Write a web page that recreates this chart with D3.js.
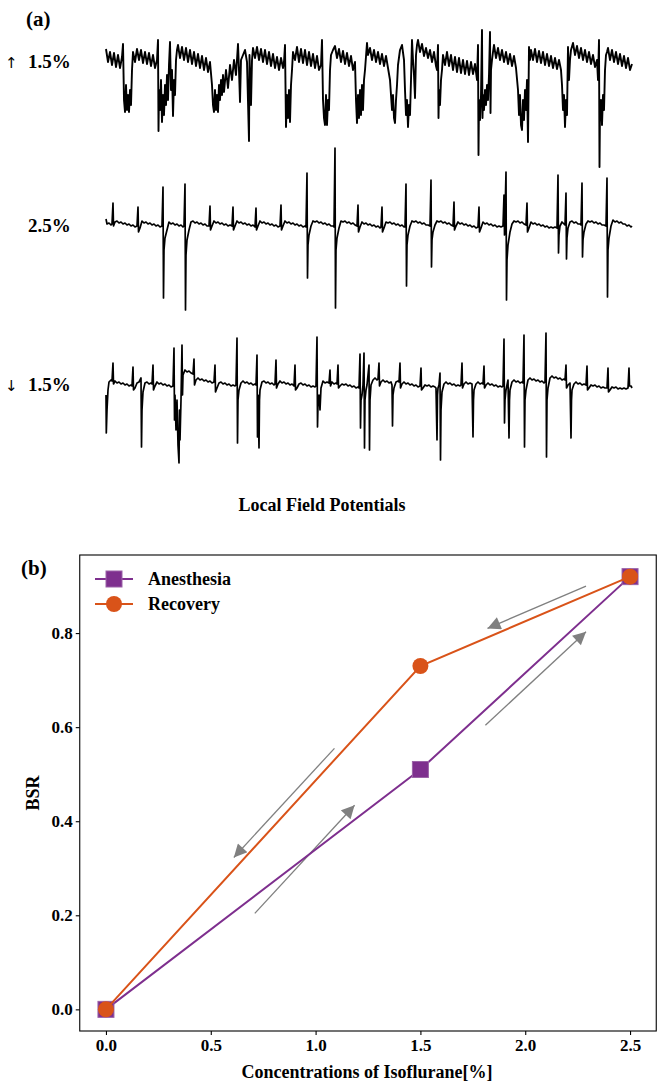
<!DOCTYPE html>
<html>
<head>
<meta charset="utf-8">
<script src="https://cdn.jsdelivr.net/npm/d3@7/dist/d3.min.js"></script>
<style>
  body { margin: 0; background: #fff; }
  svg text { font-family: "Liberation Serif", "Times New Roman", serif; font-weight: bold; fill: #000; }
</style>
</head>
<body>
<div id="chart"></div>
<script>
// ---- panel (a): LFP traces, time in s, amplitude in uV ----
var traceArrows = ["\u2191", "", "\u2193"];
var traceLabels = ["1.5%", "2.5%", "1.5%"];

var lfpUp15 = [[0.1,110],[0.3,-20],[0.5,80],[0.7,-50],[0.9,70],[1.1,-70],[1.3,50],[1.5,-80],[1.7,30],
[1.8,160],[1.9,-400],[2.0,-520],[2.1,-250],[2.2,-500],[2.3,-350],[2.4,-520],[2.5,-300],[2.6,-450],[2.7,-100],
[2.8,80],[3.0,-20],[3.2,110],[3.4,0],[3.6,100],[3.8,-30],[4.0,80],[4.2,-40],[4.4,70],[4.6,-60],[4.8,50],[5.0,-80],[5.2,0],
[5.3,200],[5.35,-710],[5.4,-300],[5.5,-500],[5.6,-200],[5.7,-620],[5.8,-350],[5.9,-550],[6.0,-250],[6.1,-450],[6.2,-150],[6.3,-400],[6.4,-50],[6.5,180],[6.6,-300],[6.7,-100],[6.8,-560],[6.9,-200],[7.0,-350],[7.1,0],
[7.2,100],[7.3,150],[7.5,20],[7.7,130],[7.9,0],[8.1,120],[8.3,-20],[8.5,100],[8.7,-40],[8.9,80],[9.1,-60],[9.3,60],[9.5,-80],[9.7,40],[9.9,-100],[10.1,20],[10.3,-120],[10.5,-20],
[10.7,-250],[10.8,-450],[10.9,-520],[11.0,-300],[11.1,-500],[11.2,-350],[11.3,-520],[11.4,-250],[11.5,-400],[11.6,-200],[11.7,-350],[11.8,-150],[11.9,-320],[12.1,-100],[12.3,-280],[12.5,-50],[12.7,-200],[12.9,0],[13.1,-150],[13.3,160],[13.4,-100],[13.5,-420],[13.6,0],[13.8,50],[14.0,100],[14.2,-20],[14.4,-810],[14.45,50],[14.6,-450],[14.7,0],
[14.8,120],[15.0,20],[15.2,130],[15.4,0],[15.6,110],[15.8,-20],[16.0,100],[16.2,-40],[16.4,80],[16.6,-60],[16.8,60],[17.0,-80],[17.2,30],[17.4,-100],[17.6,20],[17.8,-80],[17.9,-20],
[18.0,150],[18.1,-670],[18.2,-350],[18.3,-580],[18.4,-300],[18.5,-620],[18.6,-250],[18.7,-100],
[18.8,80],[19.0,0],[19.2,130],[19.4,-20],[19.6,110],[19.8,-30],[20.0,100],[20.2,-50],[20.4,80],[20.6,-60],[20.8,60],[21.0,-80],[21.2,40],[21.4,-100],
[21.6,-50],[21.7,200],[21.8,-400],[21.9,-580],[22.0,-650],[22.1,-350],[22.2,-650],[22.3,-400],[22.4,-500],[22.5,-100],
[22.6,50],[22.8,100],[23.0,140],[23.2,20],[23.4,110],[23.6,-20],[23.8,90],[24.0,-40],[24.2,70],[24.4,-60],[24.6,40],[24.8,-100],[25.0,-20],
[25.1,-400],[25.2,-630],[25.3,-350],[25.4,-580],[25.5,-300],[25.6,-550],[25.7,-250],[25.8,-500],[25.9,-200],[26.0,-100],[26.2,170],
[26.3,50],[26.5,120],[26.7,0],[26.9,100],[27.1,-20],[27.3,80],[27.5,-40],[27.7,60],[27.9,-60],[28.1,40],[28.3,-80],
[28.5,-200],[28.7,-500],[28.8,-350],[28.9,-580],[29.0,-630],[29.1,-400],[29.2,-250],[29.3,-50],[29.5,100],[29.7,150],[29.9,0],
[30.0,-300],[30.1,-550],[30.2,-400],[30.3,-670],[30.4,-450],[30.5,-550],[30.6,-200],[30.7,200],[30.8,0],[30.9,-150],[31.0,-380],[31.1,50],
[31.2,150],[31.3,200],[31.5,80],[31.7,160],[31.9,40],[32.1,120],[32.3,20],[32.5,100],[32.7,-20],[32.9,80],[33.1,-60],
[33.2,-100],[33.3,150],[33.35,-580],[33.4,-300],[33.5,-450],[33.6,-200],[33.7,-100],
[33.8,50],[34.0,-50],[34.2,80],[34.4,-60],[34.6,50],[34.8,-100],[35.0,30],[35.2,-120],[35.4,20],[35.6,-130],[35.8,0],[36.0,-140],[36.2,-10],[36.4,-150],[36.6,-20],[36.8,-140],[37.0,-40],
[37.2,-200],[37.3,150],[37.35,-950],[37.4,-400],[37.5,-600],[37.6,-350],[37.7,300],[37.75,-580],[37.8,-350],[37.9,-500],[38.0,-300],[38.1,-450],[38.2,-250],[38.3,-400],[38.4,-150],[38.5,280],[38.55,-530],[38.6,-100],[38.7,0],
[38.8,80],[38.9,150],[39.1,20],[39.3,120],[39.5,0],[39.7,100],[39.9,-20],[40.1,80],[40.3,-40],[40.5,60],[40.7,-60],[40.9,40],[41.1,-80],
[41.3,-300],[41.4,-550],[41.5,-350],[41.6,-650],[41.7,-700],[41.8,-400],[41.9,-600],[42.0,-300],[42.1,-500],[42.2,-200],[42.3,-820],[42.4,130],[42.5,0],
[42.6,100],[42.8,0],[43.0,110],[43.2,-20],[43.4,90],[43.6,-30],[43.8,80],[44.0,-50],[44.2,60],[44.4,-60],[44.6,40],[44.8,-80],[45.0,20],[45.2,-90],[45.4,0],[45.6,-100],
[45.7,-250],[45.8,-500],[45.9,-350],[46.0,-670],[46.1,-400],[46.2,-550],[46.3,130],[46.4,-200],[46.5,0],
[46.6,100],[46.8,170],[47.0,50],[47.2,140],[47.4,20],[47.6,120],[47.8,0],[48.0,100],[48.2,-20],[48.4,80],[48.6,-40],[48.8,50],[49.0,-70],[49.2,0],
[49.3,-200],[49.4,200],[49.45,-1070],[49.5,-500],[49.6,-400],[49.7,-650],[49.8,-350],[49.9,-500],[50.0,-100],[50.1,50],
[50.2,80],[50.3,120],[50.5,0],[50.7,100],[50.9,-20],[51.1,80],[51.3,-40],[51.5,60],[51.7,-60],[51.9,40],[52.1,-80],[52.3,20],[52.5,-100],[52.7,-40]];

var lfp25 = [[0.1,50],[0.2,0],[0.4,10],[0.6,-10],[0.7,0],[0.8,210],[0.85,-20],[1.0,20],[1.2,30],[1.4,10],[1.6,20],[1.8,0],[2.0,10],[2.2,-10],[2.4,0],[2.6,-20],[2.8,-10],[3.0,-30],[3.2,-20],
[3.3,170],[3.35,-80],[3.5,-40],[3.7,30],[3.9,10],[4.1,20],[4.3,0],[4.5,10],[4.7,-10],[4.9,0],[5.1,-20],[5.3,-10],[5.5,-30],[5.7,-20],
[5.8,370],[5.85,-740],[5.9,-260],[6.0,-140],[6.2,-60],[6.4,20],[6.6,0],[6.8,10],[7.0,-10],[7.2,0],[7.4,-20],[7.6,-10],[7.8,-30],[7.9,-20],
[8.0,400],[8.05,-860],[8.1,-310],[8.2,-160],[8.4,-60],[8.6,20],[8.8,30],[9.0,10],[9.2,20],[9.4,0],[9.6,10],[9.8,-10],[10.0,0],[10.2,-20],[10.4,-20],
[10.5,180],[10.55,-60],[10.7,-20],[10.9,30],[11.1,10],[11.3,20],[11.5,0],[11.7,10],[11.9,-10],[12.1,0],[12.3,-20],[12.5,-10],[12.7,-20],
[12.8,170],[12.85,-60],[13.0,-20],[13.2,30],[13.4,10],[13.6,20],[13.8,0],[14.0,10],[14.2,-10],[14.4,0],[14.6,-20],[14.8,-10],[15.0,-30],
[15.1,160],[15.15,-60],[15.3,-20],[15.5,30],[15.7,10],[15.9,20],[16.1,0],[16.3,10],[16.5,-10],[16.7,0],[16.9,-20],[17.1,-10],[17.3,-30],[17.5,-20],
[17.6,190],[17.65,-60],[17.8,-20],[18.0,30],[18.2,10],[18.4,20],[18.6,0],[18.8,10],[19.0,-10],[19.2,0],[19.4,-20],[19.6,-10],[19.8,-30],[20.0,-20],[20.1,-30],
[20.2,510],[20.25,-540],[20.3,-210],[20.4,-110],[20.6,-20],[20.8,30],[21.0,20],[21.2,30],[21.4,10],[21.6,20],[21.8,0],[22.0,10],[22.2,-10],[22.4,0],[22.6,-20],[22.8,-20],[22.9,-30],
[23.0,760],[23.05,-840],[23.1,-260],[23.2,-140],[23.4,-40],[23.6,30],[23.8,20],[24.0,30],[24.2,10],[24.4,20],[24.6,0],[24.8,10],[25.0,-10],[25.2,-20],
[25.3,190],[25.35,-80],[25.5,-30],[25.7,20],[25.9,0],[26.1,10],[26.3,-10],[26.5,0],[26.7,-20],[26.9,-10],[27.1,-30],[27.3,-20],[27.5,-40],[27.6,-30],
[27.7,170],[27.75,-80],[27.9,-40],[28.1,20],[28.3,10],[28.5,20],[28.7,0],[28.9,10],[29.1,-10],[29.3,0],[29.5,-20],[29.7,-10],[29.9,-30],[30.0,-30],
[30.1,400],[30.15,-620],[30.2,-210],[30.3,-110],[30.5,-20],[30.7,30],[30.9,20],[31.1,30],[31.3,10],[31.5,20],[31.7,0],[31.9,10],[32.1,-10],[32.3,-10],[32.5,-20],
[32.6,440],[32.65,-430],[32.7,-160],[32.8,-80],[33.0,-10],[33.2,30],[33.4,20],[33.6,30],[33.8,10],[34.0,20],[34.2,0],[34.4,10],[34.6,-10],[34.8,-20],
[34.9,220],[34.95,-60],[35.1,-20],[35.3,20],[35.5,0],[35.7,10],[35.9,-10],[36.1,0],[36.3,-20],[36.5,-10],[36.7,-30],[36.9,-20],[37.1,-40],[37.3,-30],
[37.4,170],[37.45,-80],[37.6,-40],[37.8,20],[38.0,0],[38.2,10],[38.4,-10],[38.6,0],[38.8,-20],[39.0,-10],[39.2,-30],[39.4,-20],[39.6,-30],[39.8,-20],
[39.9,290],[39.95,-110],[40.0,90],[40.1,520],[40.15,-760],[40.2,-360],[40.3,-210],[40.5,-80],[40.7,0],[40.9,30],[41.1,20],[41.3,30],[41.5,10],[41.7,20],[41.9,0],[42.1,-10],
[42.2,210],[42.25,-80],[42.4,-40],[42.6,20],[42.8,0],[43.0,10],[43.2,-10],[43.4,0],[43.6,-20],[43.8,-10],[44.0,-30],[44.2,-20],[44.4,-40],[44.6,-30],[44.8,-40],[45.0,-30],[45.2,-40],
[45.3,490],[45.35,-290],[45.4,-110],[45.5,-20],[45.7,20],[45.9,0],[46.0,-10],
[46.1,310],[46.15,-350],[46.2,-140],[46.3,-40],[46.5,20],[46.7,30],[46.9,10],[47.1,20],[47.3,0],[47.5,0],[47.6,-10],
[47.7,410],[47.75,-330],[47.8,-160],[47.9,-80],[48.1,0],[48.3,30],[48.5,20],[48.7,30],[48.9,10],[49.1,20],[49.3,0],[49.5,10],[49.7,-10],[49.9,-10],[50.1,-20],
[50.2,460],[50.25,-730],[50.3,-260],[50.4,-140],[50.6,-20],[50.8,40],[51.0,20],[51.2,30],[51.4,10],[51.6,20],[51.8,0],[52.0,0],[52.2,-20],[52.4,-10],[52.6,-30],[52.7,-20]];

var lfpDown15 = [[0.1,-120],[0.13,-500],[0.2,-270],[0.3,-70],[0.4,10],[0.6,30],[0.7,20],[0.8,200],[0.85,-10],[1.0,20],[1.2,0],[1.4,10],[1.6,-10],[1.8,0],[2.0,-20],[2.2,-10],[2.4,-30],[2.6,-20],[2.7,-30],
[2.8,160],[2.85,-70],[3.0,-50],[3.2,0],[3.4,10],[3.5,30],[3.6,50],[3.65,-640],[3.7,-270],[3.8,-90],[4.0,0],[4.2,10],[4.4,-10],[4.6,0],[4.7,-10],
[4.8,180],[4.85,-70],[5.0,-30],[5.2,10],[5.4,-10],[5.6,0],[5.8,-20],[6.0,-10],[6.2,-30],[6.4,-20],[6.6,-40],[6.8,-30],
[6.9,350],[6.95,-370],[7.0,-120],[7.1,-470],[7.2,-170],[7.3,-620],[7.4,-800],[7.45,-270],[7.5,-570],[7.6,-170],[7.7,380],[7.75,-120],[7.8,80],
[8.0,130],[8.2,110],[8.4,120],[8.6,100],[8.8,90],[8.9,240],[8.95,-20],[9.1,30],[9.3,50],[9.5,30],[9.7,40],[9.9,20],[10.1,30],[10.3,10],[10.5,20],[10.7,0],[10.9,10],
[11.0,180],[11.05,-90],[11.2,-50],[11.4,0],[11.6,10],[11.8,-10],[12.0,0],[12.2,-20],[12.4,-10],[12.6,-30],[12.8,-20],[13.0,-30],[13.1,-20],
[13.2,450],[13.25,-600],[13.3,-170],[13.4,-70],[13.6,0],[13.8,20],[14.0,0],[14.2,10],[14.4,-10],[14.6,0],[14.8,-20],[15.0,-10],[15.1,-20],
[15.2,280],[15.25,-540],[15.3,-120],[15.4,-650],[15.45,-170],[15.5,-70],[15.7,10],[15.9,20],[16.1,0],[16.3,10],[16.5,-10],[16.7,0],[16.9,-20],[17.0,-10],
[17.1,230],[17.15,-50],[17.3,-10],[17.5,20],[17.7,0],[17.9,10],[18.1,-10],[18.3,0],[18.5,-20],[18.7,-10],[18.9,-30],
[19.0,180],[19.05,-70],[19.2,-50],[19.4,-10],[19.6,0],[19.8,-20],[20.0,-10],[20.2,-30],[20.4,-20],[20.6,-40],[20.8,-30],[21.0,-40],[21.1,-30],
[21.2,460],[21.25,-440],[21.3,-220],[21.4,-120],[21.5,-270],[21.6,-50],[21.8,20],[22.0,0],[22.2,10],[22.4,0],
[22.5,130],[22.55,-30],[22.7,10],[22.9,-10],[23.1,0],[23.2,-10],[23.3,180],[23.35,-50],[23.5,-30],[23.7,-10],[23.9,-20],[24.1,-10],[24.3,-30],[24.5,-20],[24.7,-40],[24.9,-30],[25.1,-50],[25.3,-40],[25.4,-50],
[25.5,290],[25.55,-450],[25.6,-170],[25.7,-120],[25.8,-20],[25.9,300],[25.95,-650],[26.0,-170],[26.1,-70],[26.2,-20],[26.3,80],[26.4,180],[26.45,-670],[26.5,-170],[26.6,-20],[26.8,30],[27.0,50],[27.2,30],[27.3,40],
[27.4,200],[27.45,-30],[27.6,10],[27.8,30],[28.0,10],[28.2,20],[28.4,0],[28.6,10],[28.7,-20],[28.75,-430],[28.8,-120],[28.9,-50],[29.1,10],[29.3,20],[29.4,10],
[29.5,200],[29.55,-50],[29.7,-10],[29.9,10],[30.1,-10],[30.3,0],[30.5,-20],[30.7,-10],[30.9,-30],[31.1,-20],[31.3,-40],[31.5,-30],
[31.6,150],[31.65,-70],[31.8,-50],[32.0,-20],[32.2,-30],[32.4,-20],[32.6,-40],[32.8,-30],[33.0,-40],[33.1,-50],
[33.2,-570],[33.25,-120],[33.3,-50],[33.4,-20],[33.5,100],[33.55,-770],[33.6,-270],[33.7,-90],[33.9,-10],[34.1,10],[34.3,-10],[34.5,0],[34.7,-20],[34.9,-10],[35.1,-30],[35.3,-20],[35.5,-30],[35.6,-20],
[35.7,200],[35.75,-50],[35.9,-10],[36.1,10],[36.3,-10],[36.5,0],[36.7,-10],[36.8,-540],[36.85,-170],[36.9,-70],[37.1,-10],[37.3,10],[37.5,-10],[37.7,0],[37.8,-10],
[37.9,170],[37.95,-50],[38.1,-20],[38.3,0],[38.5,-20],[38.7,-10],[38.9,-30],[39.1,-20],[39.3,-40],[39.5,-30],[39.7,-40],[39.8,-30],
[39.9,440],[39.95,-400],[40.0,-170],[40.1,-70],[40.2,-20],[40.3,30],[40.4,-550],[40.45,-170],[40.5,-70],[40.7,10],[40.9,30],[41.1,10],[41.3,20],[41.5,0],[41.7,10],[41.8,0],
[41.9,480],[41.95,-640],[42.0,-170],[42.1,-70],[42.3,30],[42.5,50],[42.7,30],[42.9,40],[43.1,20],[43.3,30],[43.5,10],[43.7,20],[43.9,0],[44.0,10],
[44.1,500],[44.15,-740],[44.2,-170],[44.3,-50],[44.5,50],[44.7,70],[44.9,50],[45.1,60],[45.3,40],[45.5,50],[45.7,30],[45.9,40],[46.0,30],
[46.1,180],[46.15,-50],[46.3,-20],[46.5,0],[46.6,-550],[46.65,-170],[46.7,-70],[46.9,-10],[47.1,10],[47.3,-10],[47.5,0],[47.7,-20],[47.9,-10],[48.1,-20],
[48.2,170],[48.25,-70],[48.4,-50],[48.6,-20],[48.8,-30],[49.0,-20],[49.2,-40],[49.4,-30],[49.6,-50],[49.8,-40],[50.0,-50],[50.2,-50],
[50.3,150],[50.35,-90],[50.5,-70],[50.7,-40],[50.9,-50],[51.1,-40],[51.3,-60],[51.5,-50],[51.7,-60],[51.9,-50],[52.1,-60],[52.3,-50],
[52.4,150],[52.45,-30],[52.6,-30],[52.7,-50]];

// ---- panel (b): BSR vs isoflurane ----
var concentrations = [0, 1.5, 2.5];
var anesthesiaBSR = [0, 0.51, 0.92];
var recoveryBSR = [0, 0.73, 0.92];
var xTicks = [0, 0.5, 1.0, 1.5, 2.0, 2.5];
var yTicks = [0, 0.2, 0.4, 0.6, 0.8];
// direction arrows, [x0, y0, x1, y1] in data units
var arrowsData = [[2.29, 0.90, 1.82, 0.81], [1.81, 0.604, 2.29, 0.803],
                  [1.09, 0.555, 0.61, 0.323], [0.71, 0.204, 1.186, 0.434]];

var W = 657, H = 1083;
var purple = "#7E2F8E", orange = "#D95319";

var svg = d3.select("#chart").append("svg")
    .attr("width", W).attr("height", H);

svg.append("defs").append("marker")
    .attr("id", "ahead")
    .attr("viewBox", "0 0 10 10")
    .attr("refX", 10).attr("refY", 5)
    .attr("markerUnits", "userSpaceOnUse")
    .attr("markerWidth", 15).attr("markerHeight", 13)
    .attr("orient", "auto")
    .append("path").attr("d", "M0,0 L10,5 L0,10 z").attr("fill", "#808080");

// ---------- (a) ----------
svg.append("text").attr("x", 26).attr("y", 26).style("font-size", "21px").text("(a)");

var tx = d3.scaleLinear().domain([0, 52.7]).range([105, 632]);
var traces = [lfpUp15, lfp25, lfpDown15];
var baselines = [60, 224, 383];
var traceWidths = [1.9, 1.7, 1.7];

traces.forEach(function (tr, i) {
    var ty = d3.scaleLinear().domain([-1000, 1000]).range([baselines[i] + 100, baselines[i] - 100]);
    var line = d3.line().x(function (d) { return tx(d[0]); }).y(function (d) { return ty(d[1]); });
    svg.append("path")
        .datum(tr)
        .attr("d", line)
        .attr("fill", "none")
        .attr("stroke", "#000")
        .attr("stroke-width", traceWidths[i])
        .attr("stroke-linejoin", "round");

    var ly = baselines[i] + 8;
    svg.append("text").attr("x", 5).attr("y", ly)
        .style("font-family", "'DejaVu Sans', sans-serif")
        .style("font-size", "15px").style("font-weight", "normal").text(traceArrows[i]);
    svg.append("text").attr("x", 28).attr("y", ly)
        .style("font-size", "19px").text(traceLabels[i]);
});

svg.append("text").attr("x", 322).attr("y", 511).attr("text-anchor", "middle")
    .style("font-size", "18px").text("Local Field Potentials");

// ---------- (b) ----------
var x = d3.scaleLinear().domain([-0.125, 2.625]).range([79.75, 656.25]);
var y = d3.scaleLinear().domain([-0.046, 0.966]).range([1031, 555]);

var g = svg.append("g");

// spines
g.append("rect")
    .attr("x", x(-0.125)).attr("y", y(0.966))
    .attr("width", x(2.625) - x(-0.125)).attr("height", y(-0.046) - y(0.966))
    .attr("fill", "none").attr("stroke", "#000").attr("stroke-width", 1.1);

var xAxis = d3.axisBottom(x).tickValues(xTicks).tickFormat(d3.format(".1f")).tickSizeOuter(0).tickSize(4).tickPadding(4);
var yAxis = d3.axisLeft(y).tickValues(yTicks).tickFormat(d3.format(".1f")).tickSizeOuter(0).tickSize(4).tickPadding(3);

var gx = g.append("g").attr("transform", "translate(0," + y(-0.046) + ")").call(xAxis);
var gy = g.append("g").attr("transform", "translate(" + x(-0.125) + ",0)").call(yAxis);
[gx, gy].forEach(function (a) {
    a.select(".domain").remove();
    a.selectAll("line").attr("stroke", "#000").attr("stroke-width", 1.1);
    a.selectAll("text").style("font-size", "17px")
        .style("font-family", "'Liberation Serif', 'Times New Roman', serif")
        .style("font-weight", "bold").attr("fill", "#000");
});

// arrows
g.selectAll(".arr").data(arrowsData).enter().append("line")
    .attr("x1", function (d) { return x(d[0]); })
    .attr("y1", function (d) { return y(d[1]); })
    .attr("x2", function (d) { return x(d[2]); })
    .attr("y2", function (d) { return y(d[3]); })
    .attr("stroke", "#808080").attr("stroke-width", 1.3)
    .attr("marker-end", "url(#ahead)");

var pts = function (vals) { return concentrations.map(function (c, i) { return [c, vals[i]]; }); };
var sline = d3.line().x(function (d) { return x(d[0]); }).y(function (d) { return y(d[1]); });

// Anesthesia
g.append("path").datum(pts(anesthesiaBSR)).attr("d", sline)
    .attr("fill", "none").attr("stroke", purple).attr("stroke-width", 2);
g.selectAll(".sq").data(pts(anesthesiaBSR)).enter().append("rect")
    .attr("x", function (d) { return x(d[0]) - 8; })
    .attr("y", function (d) { return y(d[1]) - 8; })
    .attr("width", 16).attr("height", 16)
    .attr("fill", purple).attr("stroke", "#9b63a8").attr("stroke-width", 1);

// Recovery
g.append("path").datum(pts(recoveryBSR)).attr("d", sline)
    .attr("fill", "none").attr("stroke", orange).attr("stroke-width", 2);
g.selectAll(".ci").data(pts(recoveryBSR)).enter().append("circle")
    .attr("cx", function (d) { return x(d[0]); })
    .attr("cy", function (d) { return y(d[1]); })
    .attr("r", 8).attr("fill", orange);

// legend
var lg = svg.append("g");
lg.append("line").attr("x1", 95).attr("x2", 133).attr("y1", 579).attr("y2", 579)
    .attr("stroke", purple).attr("stroke-width", 2);
lg.append("rect").attr("x", 106).attr("y", 571).attr("width", 16).attr("height", 16)
    .attr("fill", purple).attr("stroke", "#9b63a8").attr("stroke-width", 1);
lg.append("text").attr("x", 148).attr("y", 585).style("font-size", "18px").text("Anesthesia");
lg.append("line").attr("x1", 95).attr("x2", 133).attr("y1", 604).attr("y2", 604)
    .attr("stroke", orange).attr("stroke-width", 2);
lg.append("circle").attr("cx", 114).attr("cy", 604).attr("r", 8).attr("fill", orange);
lg.append("text").attr("x", 148).attr("y", 610).style("font-size", "18px").text("Recovery");

// labels
svg.append("text").attr("x", 21).attr("y", 575).style("font-size", "21px").text("(b)");
svg.append("text")
    .attr("transform", "translate(39,793) rotate(-90)")
    .attr("text-anchor", "middle").style("font-size", "18px").text("BSR");
svg.append("text").attr("x", 367).attr("y", 1078).attr("text-anchor", "middle")
    .style("font-size", "18px").text("Concentrations of Isoflurane[%]");
</script>
</body>
</html>
